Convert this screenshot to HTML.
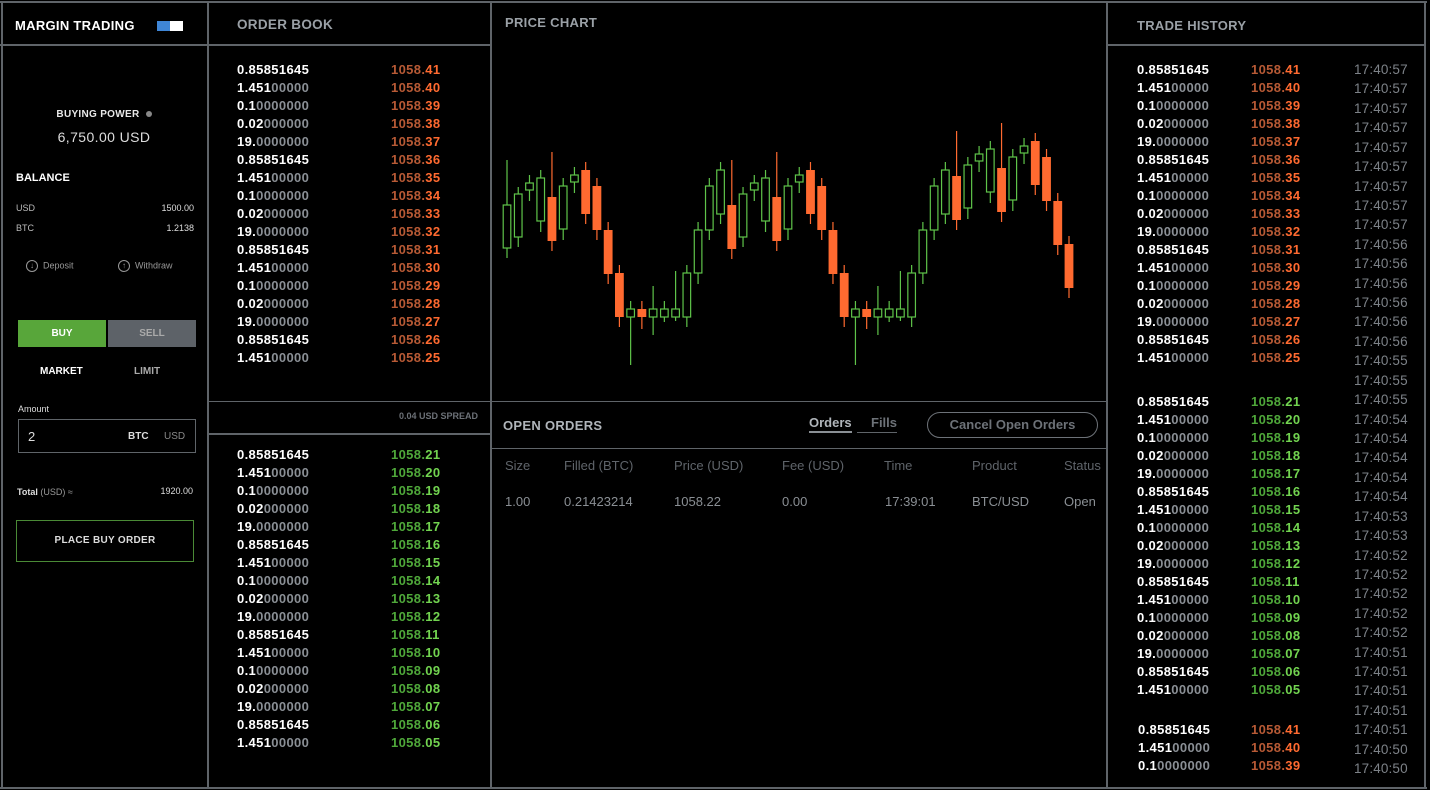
<!DOCTYPE html>
<html><head><meta charset="utf-8">
<style>
*{margin:0;padding:0;box-sizing:border-box}
body{width:1430px;height:790px;background:#000;font-family:"Liberation Sans",sans-serif;position:relative;overflow:hidden;color:#fff}
.a{position:absolute}
.ln{position:absolute;background:#5f6469}
.row{position:absolute;font-size:13px;font-weight:bold;line-height:16px;white-space:nowrap;letter-spacing:.35px}
.d{color:#8a8f95}
.pr{color:#b85a35}.pr b{color:#ff6a30}
.pg{color:#4fa83a}.pg b{color:#72d450}
b{font-weight:bold}
.hdr{position:absolute;font-size:13.5px;font-weight:bold;color:#9aa0a6;letter-spacing:.3px}
.tm{position:absolute;font-size:13.5px;color:#7d8288;line-height:16px;letter-spacing:.15px}
</style></head><body>
<div class="ln" style="left:0;top:1px;width:1427px;height:2px"></div>
<div class="ln" style="left:1px;top:1px;width:2px;height:788px"></div>
<div class="ln" style="left:207px;top:1px;width:2px;height:788px"></div>
<div class="ln" style="left:490px;top:1px;width:2px;height:788px"></div>
<div class="ln" style="left:1106px;top:1px;width:2px;height:788px"></div>
<div class="ln" style="left:1424px;top:1px;width:2px;height:788px"></div>
<div class="ln" style="left:0;top:44px;width:491px;height:2px"></div>
<div class="ln" style="left:1106px;top:44px;width:320px;height:2px"></div>
<div class="ln" style="left:0;top:787px;width:1427px;height:2px"></div>
<div class="ln" style="left:208px;top:401px;width:284px;height:1px"></div>
<div class="ln" style="left:208px;top:433px;width:284px;height:2px"></div>
<div class="ln" style="left:491px;top:401px;width:617px;height:1px"></div>
<div class="ln" style="left:491px;top:448px;width:617px;height:1px"></div>

<div class="a" style="left:15px;top:18px;font-size:13px;font-weight:bold;color:#fff;letter-spacing:.3px">MARGIN TRADING</div>
<div class="a" style="left:157px;top:21px;width:26px;height:10px;background:#fff"><div style="width:13px;height:10px;background:#3f86d6"></div></div>
<div class="a" style="left:0;width:208px;top:109px;text-align:center;font-size:10px;font-weight:bold;color:#e8e8e8;letter-spacing:.3px">BUYING POWER <span style="display:inline-block;width:6px;height:6px;border-radius:50%;background:#888;margin-left:3px"></span></div>
<div class="a" style="left:0;width:208px;top:129px;text-align:center;font-size:14px;color:#ddd;letter-spacing:.4px">6,750.00 USD</div>
<div class="a" style="left:16px;top:172px;font-size:11px;font-weight:bold">BALANCE</div>
<div class="a" style="left:16px;top:203px;font-size:9px;color:#bbb">USD</div>
<div class="a" style="right:1236px;top:203px;font-size:9px;color:#ddd">1500.00</div>
<div class="a" style="left:16px;top:223px;font-size:9px;color:#bbb">BTC</div>
<div class="a" style="right:1236px;top:223px;font-size:9px;color:#ddd">1.2138</div>
<div class="a" style="left:26px;top:260px;font-size:9px;color:#999"><span style="display:inline-block;width:12px;height:12px;border:1px solid #999;border-radius:50%;font-size:8px;text-align:center;line-height:10px;margin-right:5px;vertical-align:middle">↓</span>Deposit</div>
<div class="a" style="left:118px;top:260px;font-size:9px;color:#999"><span style="display:inline-block;width:12px;height:12px;border:1px solid #999;border-radius:50%;font-size:8px;text-align:center;line-height:10px;margin-right:5px;vertical-align:middle">↑</span>Withdraw</div>
<div class="a" style="left:18px;top:320px;width:88px;height:27px;background:#58a63a;font-size:10px;font-weight:bold;text-align:center;line-height:27px">BUY</div>
<div class="a" style="left:108px;top:320px;width:88px;height:27px;background:#5d6268;font-size:10px;font-weight:bold;text-align:center;line-height:27px;color:#aaa">SELL</div>
<div class="a" style="left:40px;top:366px;font-size:10px;font-weight:bold">MARKET</div>
<div class="a" style="left:134px;top:366px;font-size:10px;font-weight:bold;color:#aaa">LIMIT</div>
<div class="a" style="left:18px;top:404px;font-size:9px;color:#ddd">Amount</div>
<div class="a" style="left:18px;top:419px;width:178px;height:34px;border:1px solid #5f6469">
<span class="a" style="left:9px;top:9px;font-size:13px;color:#ddd">2</span>
<span class="a" style="left:109px;top:11px;font-size:10px;font-weight:bold;color:#ddd">BTC</span>
<span class="a" style="left:145px;top:11px;font-size:10px;color:#888">USD</span></div>
<div class="a" style="left:17px;top:487px;font-size:9px;font-weight:bold;color:#ddd">Total <span style="font-weight:normal;color:#999">(USD) ≈</span></div>
<div class="a" style="right:1237px;top:486px;font-size:9px;color:#ddd">1920.00</div>
<div class="a" style="left:16px;top:520px;width:178px;height:42px;border:1px solid #4a8a36;font-size:10px;font-weight:bold;text-align:center;line-height:40px;color:#ddd;letter-spacing:.3px">PLACE BUY ORDER</div>

<div class="hdr" style="left:237px;top:17px">ORDER BOOK</div>
<div class="hdr" style="left:505px;top:15px;font-size:13px">PRICE CHART</div>
<div class="hdr" style="left:1137px;top:18px;font-size:13px">TRADE HISTORY</div>
<div class="a" style="left:399px;top:411px;font-size:9px;color:#6c7177;font-weight:bold">0.04 USD SPREAD</div>

<div class="hdr" style="left:503px;top:418px;font-size:13px;color:#b0b5ba">OPEN ORDERS</div>
<div class="a" style="left:809px;top:415px;font-size:13px;font-weight:bold;color:#b0b5ba;border-bottom:2px solid #8a8f94;padding-bottom:1px">Orders</div>
<div class="a" style="left:857px;top:415px;font-size:13px;font-weight:bold;color:#6d7278;border-bottom:1px solid #5f6469;padding:0 0 2px 14px">Fills</div>
<div class="a" style="left:927px;top:412px;width:171px;height:26px;border:1px solid #6d7278;border-radius:13px;font-size:13px;font-weight:bold;color:#6d7278;text-align:center;line-height:24px">Cancel Open Orders</div>
<div id="cols"></div>

<svg class="a" style="left:0;top:0" width="1430" height="790" id="chart"></svg>
<div id="ob"></div>

<script>
const opens  = [152,163,210,179,203,171,218,230,214,170,127,83,91,83,83,83,83,127,170,186,195,163,210,179,203,171,218,230,214,170,127,83,91,83,83,83,83,127,170,186,224,192,239,208,232,200,247,259,243,199,156];
const highs  = [240,213,225,230,248,222,233,238,222,178,135,99,99,114,99,129,135,178,222,238,240,213,225,230,248,222,233,238,222,178,135,99,99,114,99,129,135,178,222,238,269,243,254,259,277,251,262,267,251,207,164];
const lows   = [142,153,199,168,149,160,207,176,160,116,73,35,71,65,78,79,73,116,160,176,141,153,199,168,149,160,207,176,160,116,73,35,71,65,78,79,73,116,160,176,170,181,228,197,178,189,236,205,189,145,102];
const closes = [195,206,217,222,159,214,225,186,170,126,83,91,83,91,91,91,127,170,214,230,151,206,217,222,159,214,225,186,170,126,83,91,83,91,91,91,127,170,214,230,180,235,246,251,188,243,254,215,199,155,112];
const chartX0=507, chartX1=1069, yBase=400;
function xAt(i){return chartX0+(chartX1-chartX0)*i/(opens.length-1);}
function yAt(v){return yBase-v;}
const svg=document.getElementById('chart');
const NS='http://www.w3.org/2000/svg';
for(let i=0;i<opens.length;i++){
  const up=closes[i]>=opens[i];
  const col=up?'#5fc44a':'#ff6a30';
  const x=xAt(i);
  const l=document.createElementNS(NS,'line');
  l.setAttribute('x1',x);l.setAttribute('x2',x);
  l.setAttribute('y1',yAt(highs[i]));l.setAttribute('y2',yAt(lows[i]));
  l.setAttribute('stroke',col);l.setAttribute('stroke-width','1.2');
  
  
  svg.appendChild(l);
  const top=yAt(Math.max(opens[i],closes[i])),bot=yAt(Math.min(opens[i],closes[i]));
  const r=document.createElementNS(NS,'rect');
  if(up){r.setAttribute('x',x-3.8);r.setAttribute('width',7.6);r.setAttribute('y',top);r.setAttribute('height',Math.max(bot-top,1));r.setAttribute('fill','#000');r.setAttribute('stroke',col);r.setAttribute('stroke-width','1.2');}
  else{r.setAttribute('x',x-4.4);r.setAttribute('width',8.8);r.setAttribute('y',top);r.setAttribute('height',Math.max(bot-top,1));r.setAttribute('fill',col);}
  
  
  svg.appendChild(r);
}

const qtyBold=['0.85851645','1.451','0.1','0.02','19.','0.85851645','1.451','0.1','0.02','19.','0.85851645','1.451','0.1','0.02','19.','0.85851645','1.451'];
const qtyDim =['','00000','0000000','000000','0000000','','00000','0000000','000000','0000000','','00000','0000000','000000','0000000','','00000'];
const askDec=['41','40','39','38','37','36','35','34','33','32','31','30','29','28','27','26','25'];
const bidDec=['21','20','19','18','17','16','15','14','13','12','11','10','09','08','07','06','05'];
const times=['17:40:57','17:40:57','17:40:57','17:40:57','17:40:57','17:40:57','17:40:57','17:40:57','17:40:57','17:40:56','17:40:56','17:40:56','17:40:56','17:40:56','17:40:56','17:40:55','17:40:55','17:40:55','17:40:54','17:40:54','17:40:54','17:40:54','17:40:54','17:40:53','17:40:53','17:40:52','17:40:52','17:40:52','17:40:52','17:40:52','17:40:51','17:40:51','17:40:51','17:40:51','17:40:51','17:40:50','17:40:50'];
const ob=document.getElementById('ob');
function addRow(qx,px,y,i,dec,cls,name){
  const q=document.createElement('div');
  q.className='row';q.style.left=qx+'px';q.style.top=(y-7)+'px';
  q.innerHTML=qtyBold[i]+'<span class="d">'+qtyDim[i]+'</span>';
  
  
  ob.appendChild(q);
  const p=document.createElement('div');
  p.className='row '+cls;p.style.left=px+'px';p.style.top=(y-7)+'px';
  p.innerHTML='1058.<b>'+dec+'</b>';
  
  
  ob.appendChild(p);
}
for(let i=0;i<17;i++){
  addRow(237,391,69+18*i,i,askDec[i],'pr','ask');
  addRow(237,391,454+18*i,i,bidDec[i],'pg','bid');
  addRow(1137,1251,69+18*i,i,askDec[i],'pr','trade-sell');
  addRow(1137,1251,401+18*i,i,bidDec[i],'pg','trade-buy');
}
for(let i=0;i<3;i++){addRow(1138,1251,729+18*i,i,askDec[i],'pr','trade-sell');}
for(let i=0;i<times.length;i++){
  const t=document.createElement('div');
  t.className='tm';t.style.left='1354px';t.style.top=(70+19.42*i-8)+'px';
  t.textContent=times[i];
  
  
  ob.appendChild(t);
}
const colNames=['Size','Filled (BTC)','Price (USD)','Fee (USD)','Time','Product','Status'];
const rowVals=['1.00','0.21423214','1058.22','0.00','17:39:01','BTC/USD','Open'];
const colX=[505,564,674,782,884,972,1064];
const cols=document.getElementById('cols');
for(let i=0;i<colNames.length;i++){
  const h=document.createElement('div');
  h.className='a';h.style.cssText='left:'+colX[i]+'px;top:458px;font-size:13px;color:#5f646a';
  h.textContent=colNames[i];
  
  
  cols.appendChild(h);
  const v=document.createElement('div');
  v.className='a';v.style.cssText='left:'+(colX[i]+(i==4?1:0))+'px;top:494px;font-size:13px;color:#8a8f94';
  v.textContent=rowVals[i];
  
  
  cols.appendChild(v);
}
</script>
</body></html>
